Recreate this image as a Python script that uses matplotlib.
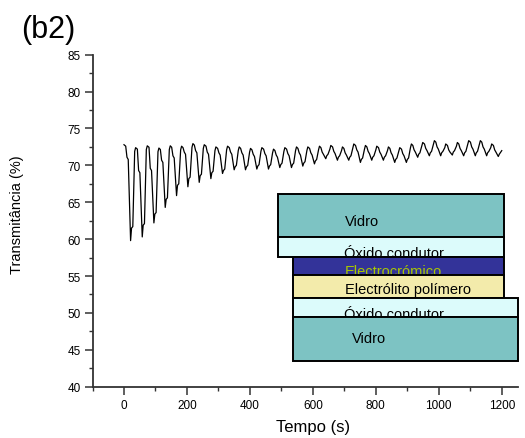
import matplotlib
matplotlib.use("Agg")
import matplotlib.pyplot as plt
from matplotlib.patches import Rectangle
from matplotlib.ticker import MultipleLocator

plt.rcParams['font.family'] = ['Liberation Sans', 'DejaVu Sans']

# ---- transmittance cycling data -------------------------------------------
t_start, T_start = 0.0, 72.8          # first reading
t_end, T_end = 1200.0, 72.0           # last reading

# time of each coloured minimum (s)
t_min = [21, 58, 95, 131, 167, 203, 239, 276, 313, 350, 386, 422, 459, 495,
         532, 568, 605, 641, 678, 714, 751, 787, 824, 860, 897, 933, 970,
         1006, 1043, 1079, 1116, 1152, 1189]
# transmittance at each minimum (%)
T_min = [59.8, 60.3, 62.2, 64.3, 65.9, 67.1, 67.7, 68.2, 68.9, 69.4, 69.4,
         69.5, 69.5, 69.7, 69.7, 69.9, 70.2, 70.9, 70.7, 70.7, 70.4, 70.7,
         70.7, 70.4, 70.4, 71.1, 71.3, 71.3, 71.4, 71.3, 71.3, 71.3, 71.2]
# small step just after each minimum (%)
T_bump = [61.5, 61.9, 63.4, 65.4, 67.3, 68.2, 68.6, 69.0, 69.3, 69.8, 69.8,
          69.9, 69.9, 70.1, 70.1, 70.3, 70.6, 71.3, 71.1, 71.1, 70.8, 71.1,
          71.1, 70.8, 70.8, 71.5, 71.7, 71.7, 71.8, 71.7, 71.7, 71.7, 71.5]
# bleached maximum reached after each minimum (%)
T_peak = [72.4, 72.65, 72.35, 72.65, 72.6, 72.95, 72.8, 72.5, 72.6, 72.5,
          72.3, 72.4, 72.2, 72.4, 72.5, 72.5, 72.6, 72.7, 72.5, 72.9, 72.7,
          72.6, 72.5, 72.4, 72.9, 73.1, 73.35, 72.9, 73.1, 73.35, 73.35, 72.9]
# shoulder before each drop into a minimum (%)
T_knee = [71.1, 69.3, 69.6, 70.7, 71.3, 71.8, 72.0, 71.8, 71.7, 71.8, 71.7,
          71.5, 71.6, 71.4, 71.6, 71.7, 71.7, 71.8, 71.9, 71.7, 72.1, 71.9,
          71.8, 71.7, 71.6, 72.1, 72.3, 72.5, 72.1, 72.3, 72.5, 72.5, 72.1]

# ---- build the polyline --------------------------------------------------
tt, yy = [t_start], [T_start]
prev_peak = T_start
for k, m in enumerate(t_min):
    # plateau at the top, shoulder, then the drop
    tt += [m - 15.5, m - 11.5, m - 7.5, m]
    yy += [prev_peak - 0.2, T_knee[k], T_knee[k] - 0.3, T_min[k]]
    if k < len(T_peak):
        tt += [m + 3, m + 7, m + 13, m + 16]
        yy += [T_bump[k], T_bump[k] + 0.2, T_peak[k] - 0.5, T_peak[k]]
        prev_peak = T_peak[k]
    else:
        tt += [m + 3, t_end]
        yy += [T_bump[k], T_end]

# ---- device cross-section legend ----------------------------------------
layer_names = ["Vidro", "Óxido condutor", "Electrocrómico",
               "Electrólito polímero", "Óxido condutor", "Vidro"]
layer_colors = ["#7dc3c3", "#dcfbfb", "#333399", "#f3ebab", "#dcfbfb", "#7dc3c3"]
text_colors = ["black", "black", "#a8c800", "black", "black", "black"]
# (x0, x1, y0, y1) in data units, label (x, baseline)
layer_boxes = [(490, 1208, 60.25, 66.12), (490, 1208, 57.62, 60.25),
               (536, 1208, 55.14, 57.62), (536, 1208, 51.98, 55.14),
               (536, 1253, 49.41, 51.98), (536, 1253, 43.52, 49.41)]
label_pos = [(702, 61.9), (699, 57.6), (702, 55.1), (702, 52.7),
             (699, 49.35), (723, 46.1)]

fig = plt.figure(figsize=(5.25, 4.39), dpi=100)
ax = fig.add_axes([92.5 / 525, 1 - 387.7 / 439, 425 / 525, 332 / 439])

ax.plot(tt, yy, color="black", lw=0.9, zorder=3)

for i, (name, fc, tc, box, lp) in enumerate(
        zip(layer_names, layer_colors, text_colors, layer_boxes, label_pos)):
    x0, x1, y0, y1 = box
    ax.add_patch(Rectangle((x0, y0), x1 - x0, y1 - y0, facecolor=fc,
                           edgecolor="black", lw=1.4, clip_on=False,
                           zorder=10 + 2 * i))
    ax.text(lp[0], lp[1], name, color=tc, fontsize=10.5, ha="left",
            va="baseline", zorder=11 + 2 * i, clip_on=False)

ax.set_xlim(-100, 1250)
ax.set_ylim(40, 85)
ax.xaxis.set_major_locator(MultipleLocator(200))
ax.xaxis.set_minor_locator(MultipleLocator(100))
ax.yaxis.set_major_locator(MultipleLocator(5))
ax.yaxis.set_minor_locator(MultipleLocator(2.5))
ax.set_xticks([0, 200, 400, 600, 800, 1000, 1200])

for s in ("top", "right"):
    ax.spines[s].set_visible(False)
for s in ("left", "bottom"):
    ax.spines[s].set_linewidth(1.3)
    ax.spines[s].set_color("#333333")

ax.tick_params(which="major", direction="out", length=5.5, width=1.1,
               color="#333333", labelsize=8.5, pad=3)
ax.tick_params(which="minor", direction="out", length=3, width=1.0,
               color="#333333")

ax.set_xlabel("Tempo (s)", fontsize=12)
ax.set_ylabel("Transmitância (%)", fontsize=10.5)
ax.xaxis.set_label_coords(0.519, -0.098)
ax.yaxis.set_label_coords(-0.16, 0.52)

fig.text(21 / 525, 1 - 38 / 439, "(b2)", fontsize=22, va="baseline", ha="left")

fig.savefig("out.png", dpi=100)
